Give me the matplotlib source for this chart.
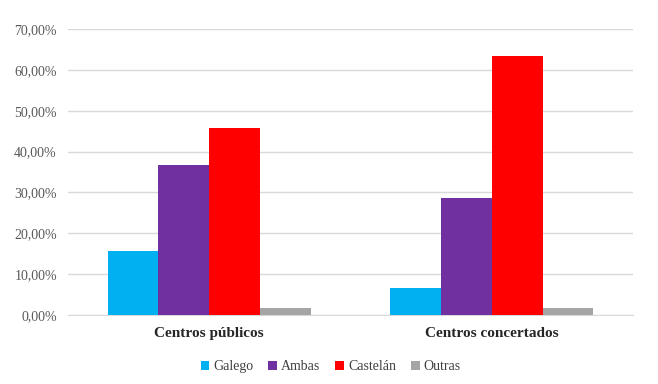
import numpy as np
import matplotlib
matplotlib.use('Agg')
import matplotlib.pyplot as plt
from matplotlib.ticker import FuncFormatter

# datos
categorias = ['Centros públicos', 'Centros concertados']
series = ['Galego', 'Ambas', 'Castelán', 'Outras']
galego = [15.7, 6.5]
ambas = [36.7, 28.6]
castelan = [45.7, 63.4]
outras = [1.8, 1.6]
cores = ['#00b0f0', '#7030a0', '#ff0000', '#a5a5a5']

plt.rcParams['font.family'] = ['Liberation Serif', 'DejaVu Serif']

fig = plt.figure(figsize=(6.58, 3.84), dpi=100)
ax = fig.add_axes([0.1033, 0.1797, 0.8587, 0.7448])

x = np.arange(len(categorias))
w = 0.18
valores = [galego, ambas, castelan, outras]
for i, (nome, v) in enumerate(zip(series, valores)):
    ax.bar(x + (i - 1.5) * w, v, w, color=cores[i], label=nome, zorder=3)

ax.set_xlim(-0.5, 1.5)
ax.set_ylim(0, 70)
ax.set_yticks(np.arange(0, 71, 10))
ax.yaxis.set_major_formatter(FuncFormatter(lambda v, p: f'{v:.2f}%'.replace('.', ',')))
ax.grid(axis='y', color='#d9d9d9', linewidth=1, zorder=0)
for s in ['top', 'right', 'left']:
    ax.spines[s].set_visible(False)
ax.spines['bottom'].set_color('#d9d9d9')
ax.tick_params(axis='y', length=0, labelsize=10, colors='#595959', pad=8)
ax.tick_params(axis='x', length=0, pad=9)
ax.set_xticks(x)
ax.set_xticklabels(categorias, fontsize=11, fontweight='bold', color='#262626')

ax.legend(loc='upper center', bbox_to_anchor=(0.465, -0.115), ncol=4, frameon=False,
          fontsize=10, handlelength=0.6, handleheight=0.6, handletextpad=0.3,
          columnspacing=1.1, labelcolor='#404040')

fig.savefig('out.png', dpi=100)
